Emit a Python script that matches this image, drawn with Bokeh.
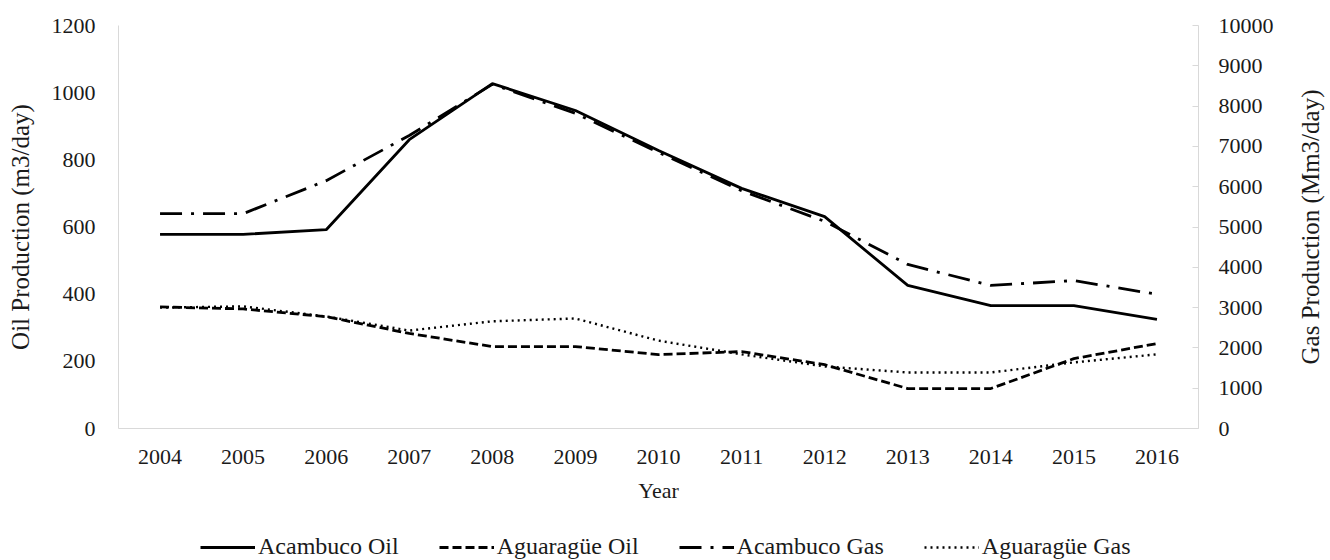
from bokeh.plotting import figure
from bokeh.models import Range1d, LinearAxis, FixedTicker, Legend, LegendItem, Title
from bokeh.layouts import column, row
from bokeh.embed import file_html
from bokeh.resources import INLINE

years = ["2004", "2005", "2006", "2007", "2008", "2009", "2010", "2011", "2012", "2013", "2014", "2015", "2016"]
acambuco_oil = [578, 578, 592, 860, 1027, 947, 828, 715, 631, 426, 366, 366, 325]
aguarague_oil = [362, 356, 333, 283, 244, 244, 220, 229, 190, 119, 119, 208, 253]
acambuco_gas = [5330, 5330, 6150, 7270, 8540, 7820, 6850, 5900, 5140, 4070, 3550, 3670, 3330]
aguarague_gas = [3000, 3030, 2780, 2430, 2660, 2730, 2180, 1840, 1540, 1390, 1390, 1640, 1840]
series_names = ["Acambuco Oil", "Aguaragüe Oil", "Acambuco Gas", "Aguaragüe Gas"]
oil_ticks = [0, 200, 400, 600, 800, 1000, 1200]
gas_ticks = [0, 1000, 2000, 3000, 4000, 5000, 6000, 7000, 8000, 9000, 10000]
gas_label = "Gas Production (Mm3/day)"

FONT = "Liberation Serif"
AX = "#d9d9d9"
TXT = "#1a1a1a"
STYLES = [
    dict(line_color="black", line_width=2.8),
    dict(line_color="black", line_width=2.8, line_dash="9 4"),
    dict(line_color="black", line_width=2.8, line_dash="22 9 3 9"),
    dict(line_color="black", line_width=2.4, line_dash="2 4"),
]
series = [acambuco_oil, aguarague_oil, acambuco_gas, aguarague_gas]

p = figure(x_range=years, y_range=Range1d(0, 1200), width=1290, height=510,
           output_backend="svg", toolbar_location=None,
           min_border_left=118, min_border_right=92, min_border_top=25, min_border_bottom=82)
p.extra_y_ranges = {"gas": Range1d(0, 10000)}
p.outline_line_color = None
p.xgrid.grid_line_color = None
p.ygrid.grid_line_color = None

p.line(years, acambuco_oil, **STYLES[0])
p.line(years, aguarague_oil, **STYLES[1])
p.line(years, acambuco_gas, y_range_name="gas", **STYLES[2])
p.line(years, aguarague_gas, y_range_name="gas", **STYLES[3])

def style(ax, label_size):
    ax.axis_line_color = AX
    ax.major_tick_line_color = None
    ax.minor_tick_line_color = None
    ax.major_tick_out = 0
    ax.major_tick_in = 0
    ax.minor_tick_out = 0
    ax.minor_tick_in = 0
    ax.major_label_text_font = FONT
    ax.major_label_text_font_size = "22px"
    ax.major_label_text_color = TXT
    ax.axis_label_text_font = FONT
    ax.axis_label_text_font_size = label_size
    ax.axis_label_text_font_style = "normal"
    ax.axis_label_text_color = TXT

yl = p.yaxis[0]
style(yl, "25px")
yl.ticker = FixedTicker(ticks=oil_ticks)
yl.axis_label = "Oil Production (m3/day)"
yl.major_label_standoff = 23
yl.axis_label_standoff = 15

xa = p.xaxis[0]
style(xa, "22px")
xa.axis_label = "Year"
xa.major_label_standoff = 21
xa.axis_label_standoff = 11

yr = LinearAxis(y_range_name="gas", ticker=FixedTicker(ticks=gas_ticks))
style(yr, "25px")
yr.major_tick_line_color = AX
yr.major_tick_in = 6
yr.major_tick_out = 0
yr.major_label_standoff = 20
p.add_layout(yr, "right")

# narrow strip on the right carrying the gas axis title (reads bottom to top)
pr = figure(width=40, height=510, x_range=Range1d(0, 1), y_range=Range1d(0, 1),
            output_backend="svg", toolbar_location=None,
            min_border_left=33, min_border_right=0, min_border_top=25, min_border_bottom=82,
            x_axis_type=None, y_axis_type=None)
pr.outline_line_color = None
pr.xgrid.grid_line_color = None
pr.ygrid.grid_line_color = None
pr.add_layout(Title(text=gas_label, align="center", standoff=0, text_font=FONT,
                    text_font_size="25px", text_font_style="normal", text_color=TXT), "left")

# legend strip below the chart (its lines lie outside its visible range)
pl = figure(width=1330, height=50, x_range=years, y_range=Range1d(-20000, -10000),
            output_backend="svg", toolbar_location=None,
            min_border_left=0, min_border_right=0, min_border_top=0, min_border_bottom=0,
            x_axis_type=None, y_axis_type=None)
pl.outline_line_color = None
pl.xgrid.grid_line_color = None
pl.ygrid.grid_line_color = None
items = []
for name, st, vals in zip(series_names, STYLES, series):
    r = pl.line(years, vals, **st)
    items.append(LegendItem(label=name, renderers=[r]))
legend = Legend(items=items, orientation="horizontal", location=(200, 0))
legend.border_line_color = None
legend.background_fill_alpha = 0
legend.padding = 0
legend.margin = 0
legend.glyph_width = 55
legend.label_standoff = 3
legend.spacing = 40
legend.label_text_font = FONT
legend.label_text_font_size = "24px"
legend.label_text_color = TXT
pl.add_layout(legend, "center")

layout = column(row(p, pr, spacing=0), pl, spacing=0)
open("out.html", "w").write(file_html(layout, INLINE))
